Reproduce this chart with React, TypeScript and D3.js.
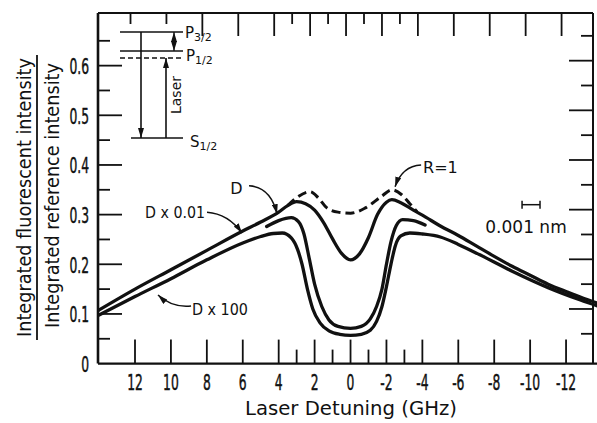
import React from 'react';
import * as d3 from 'd3';

// values: laser detuning (GHz) vs normalised intensity
const dDetuning = [14, 12, 10, 8, 6, 5, 4, 3.5, 3, 2.5, 2, 1.5, 1, 0.5, 0, -0.5, -1, -1.5, -2, -2.3, -2.8, -3.5, -4, -5, -6, -7, -8, -9, -10, -11, -12, -13, -13.75];
const dValues = [0.108, 0.150, 0.189, 0.228, 0.267, 0.285, 0.305, 0.318, 0.326, 0.322, 0.309, 0.284, 0.251, 0.222, 0.209, 0.221, 0.254, 0.300, 0.325, 0.330, 0.324, 0.309, 0.299, 0.277, 0.258, 0.237, 0.216, 0.196, 0.178, 0.160, 0.145, 0.131, 0.122];

const rDetuning = [3.5, 3, 2.25, 1.8, 1.33, 0.7, 0, -0.8, -1.7, -2.3, -2.85, -3.3, -3.7];
const rValues = [0.318, 0.334, 0.346, 0.334, 0.314, 0.305, 0.303, 0.313, 0.336, 0.350, 0.340, 0.322, 0.306];

const mDetuning = [4.67, 4, 3.3, 2.9, 2.6, 2.3, 2.0, 1.6, 1.2, 0.7, 0, -0.6, -1.1, -1.45, -1.75, -2.0, -2.25, -2.55, -2.9, -3.5, -4.15];
const mValues = [0.276, 0.288, 0.294, 0.286, 0.262, 0.212, 0.160, 0.115, 0.088, 0.075, 0.071, 0.075, 0.090, 0.115, 0.150, 0.200, 0.245, 0.278, 0.290, 0.288, 0.279];

const lDetuning = [14, 12, 10, 8, 6, 5, 4.3, 3.8, 3.3, 2.95, 2.7, 2.4, 2.1, 1.7, 1.2, 0.6, 0, -0.6, -1.1, -1.45, -1.75, -2.0, -2.25, -2.5, -2.8, -3.3, -4, -5, -6, -7.2, -9, -11, -12.8, -13.75];
const lValues = [0.098, 0.135, 0.171, 0.209, 0.243, 0.256, 0.262, 0.263, 0.253, 0.230, 0.200, 0.150, 0.110, 0.082, 0.066, 0.059, 0.057, 0.059, 0.067, 0.085, 0.115, 0.155, 0.200, 0.238, 0.257, 0.263, 0.261, 0.255, 0.240, 0.219, 0.186, 0.153, 0.128, 0.116];

const xMajorTicks = [12, 10, 8, 6, 4, 2, 0, -2, -4, -6, -8, -10, -12];
const xMinorTicks = [3, 1, -1, -3];
const topMajorTicks = [8.25, 6.25, 4.25, 2.25, 0.25, -1.75, -3.75, -5.75, -7.75, -9.75, -11.75];
const topMinorTicks = [12.25, 10.25, 3.25, 1.25, -0.75, -2.75];
const yMajorTicks = [0.1, 0.2, 0.3, 0.4, 0.5, 0.6];
const yMinorTicks = [0.05, 0.15, 0.25, 0.35, 0.45, 0.55, 0.65];
const yTickLabels = ['0', '0.1', '0.2', '0.3', '0.4', '0.5', '0.6'];
const rightMajorTicks = [0.11, 0.21, 0.31, 0.41, 0.51, 0.61];
const rightMinorTicks = [0.06, 0.16, 0.26, 0.36, 0.46, 0.56, 0.66];

const INK = '#111';
const FONT = 'DejaVu Sans, sans-serif';

function Num({ x, y, anchor = 'middle', children }: any) {
  return (
    <text transform={`translate(${x},${y}) scale(0.56,1)`} textAnchor={anchor}
      fontSize={22} fontFamily={FONT} fill={INK} stroke={INK} strokeWidth={0.5}>{children}</text>
  );
}

export default function App() {
  const x = d3.scaleLinear().domain([14.06, -13.5]).range([98, 593]);
  const y = d3.scaleLinear().domain([0, 0.706]).range([363.6, 13]);
  const left = x(14.06), right = x(-13.5), top = y(0.706), bottom = y(0);

  const line = d3.line<[number, number]>()
    .x(d => x(d[0]))
    .y(d => y(d[1]))
    .curve(d3.curveMonotoneX);
  const zip = (a: number[], b: number[]) => a.map((g, i) => [g, b[i]] as [number, number]);

  // curved label arrows, in data units
  const arrow = (g1: number, v1: number, gc: number, vc: number, g2: number, v2: number) =>
    `M${x(g1)},${y(v1)} Q${x(gc)},${y(vc)} ${x(g2)},${y(v2)}`;

  // level diagram in the corner
  const ox = left, oy = top;

  return (
    <svg width={597} height={423} style={{ position: 'absolute', left: 0, top: 0, background: '#fff' }}>
      <defs>
        <clipPath id="plot">
          <rect x={left} y={0} width={597 - left} height={bottom} />
        </clipPath>
        <marker id="head" viewBox="0 0 10 6" refX={10} refY={3} markerWidth={10} markerHeight={6}
          markerUnits="userSpaceOnUse" orient="auto">
          <path d="M0,0 L10,3 L0,6 Z" fill={INK} />
        </marker>
      </defs>

      {/* frame */}
      <g stroke={INK} fill="none">
        <line x1={left} x2={left} y1={top} y2={bottom} strokeWidth={2.6} />
        <line x1={left} x2={597} y1={bottom} y2={bottom} strokeWidth={2.2} />
        <line x1={left} x2={right} y1={top} y2={top} strokeWidth={1.8} />
        <line x1={right} x2={right} y1={top} y2={bottom} strokeWidth={2} />
      </g>

      {/* ticks */}
      <g stroke={INK} strokeWidth={1.8}>
        {xMajorTicks.map(t => <line key={'xM' + t} x1={x(t)} x2={x(t)} y1={bottom} y2={bottom - 24} />)}
        {xMinorTicks.map(t => <line key={'xm' + t} x1={x(t)} x2={x(t)} y1={bottom} y2={bottom - 14} />)}
        {topMajorTicks.map(t => <line key={'tM' + t} x1={x(t)} x2={x(t)} y1={top} y2={top + 23} />)}
        {topMinorTicks.map(t => <line key={'tm' + t} x1={x(t)} x2={x(t)} y1={top} y2={top + 11} />)}
        {yMajorTicks.map(t => <line key={'yM' + t} x1={left} x2={left + 24} y1={y(t)} y2={y(t)} />)}
        {yMinorTicks.map(t => <line key={'ym' + t} x1={left} x2={left + 12} y1={y(t)} y2={y(t)} />)}
        {rightMajorTicks.map(t => <line key={'rM' + t} x1={right} x2={right - 24} y1={y(t)} y2={y(t)} />)}
        {rightMinorTicks.map(t => <line key={'rm' + t} x1={right} x2={right - 12} y1={y(t)} y2={y(t)} />)}
      </g>

      {/* tick labels */}
      {xMajorTicks.map(t => <Num key={'xl' + t} x={x(t)} y={390}>{`${t}`}</Num>)}
      {yTickLabels.map(t => <Num key={'yl' + t} x={89} y={y(+t) + 8.5} anchor="end">{t}</Num>)}

      {/* axis titles */}
      <text x={351} y={415} textAnchor="middle" fontSize={20} fontFamily={FONT} fill={INK}
        textLength={212} lengthAdjust="spacingAndGlyphs">Laser Detuning (GHz)</text>
      <text transform="translate(31,197.5) rotate(-90)" textAnchor="middle" fontSize={19} fontFamily={FONT}
        fill={INK} textLength={279} lengthAdjust="spacingAndGlyphs">Integrated fluorescent intensity</text>
      <line x1={37} x2={37} y1={55} y2={340} stroke={INK} strokeWidth={1.8} />
      <text transform="translate(59,195.5) rotate(-90)" textAnchor="middle" fontSize={19} fontFamily={FONT}
        fill={INK} textLength={265} lengthAdjust="spacingAndGlyphs">Integrated reference intensity</text>

      {/* curves */}
      <g clipPath="url(#plot)" fill="none" stroke={INK} strokeLinecap="round" strokeLinejoin="round">
        <path d={line(zip(dDetuning, dValues)) || ''} strokeWidth={3.3} />
        <path d={line(zip(mDetuning, mValues)) || ''} strokeWidth={3.3} />
        <path d={line(zip(lDetuning, lValues)) || ''} strokeWidth={3.3} />
        <path d={line(zip(rDetuning, rValues)) || ''} strokeWidth={3} strokeDasharray="9 5" strokeLinecap="butt" />
      </g>

      {/* curve labels */}
      <g fontFamily={FONT} fontSize={16} fill={INK}>
        <text x={x(6.7)} y={y(0.342)}>D</text>
        <text x={x(11.44)} y={y(0.293)} textLength={60} lengthAdjust="spacingAndGlyphs">D x 0.01</text>
        <text x={x(8.83)} y={y(0.098)} textLength={56} lengthAdjust="spacingAndGlyphs">D x 100</text>
        <text x={x(-4.04)} y={y(0.384)}>R=1</text>
        <text x={x(-9.77)} y={y(0.263)} textAnchor="middle" fontSize={17}>0.001 nm</text>
      </g>
      <g fill="none" stroke={INK} strokeWidth={1.5}>
        <path d={arrow(5.65, 0.358, 4.45, 0.356, 4.09, 0.301)} markerEnd="url(#head)" />
        <path d={arrow(7.99, 0.305, 6.82, 0.302, 6.04, 0.263)} markerEnd="url(#head)" />
        <path d={arrow(8.88, 0.116, 9.94, 0.112, 10.72, 0.138)} markerEnd="url(#head)" />
        <path d={arrow(-3.93, 0.40, -2.87, 0.398, -2.48, 0.356)} markerEnd="url(#head)" />
        {/* 0.001 nm scale bar */}
        <line x1={x(-9.55)} x2={x(-10.55)} y1={y(0.32)} y2={y(0.32)} />
        <line x1={x(-9.55)} x2={x(-9.55)} y1={y(0.32) - 4} y2={y(0.32) + 4} />
        <line x1={x(-10.55)} x2={x(-10.55)} y1={y(0.32) - 4} y2={y(0.32) + 4} />
      </g>

      {/* energy-level inset */}
      <g transform={`translate(${ox},${oy})`} stroke={INK} fill="none" strokeWidth={1.6}>
        <line x1={22} x2={85} y1={19} y2={19} />
        <line x1={22} x2={85} y1={38} y2={38} />
        <line x1={22} x2={85} y1={45} y2={45} strokeDasharray="5 3" />
        <line x1={33} x2={85} y1={125} y2={125} />
        <line x1={43} x2={43} y1={19} y2={125} markerEnd="url(#head)" />
        <line x1={68} x2={68} y1={125} y2={45} markerEnd="url(#head)" />
        <line x1={76} x2={76} y1={28} y2={19} markerEnd="url(#head)" strokeWidth={1.2} />
        <line x1={76} x2={76} y1={28} y2={38} markerEnd="url(#head)" strokeWidth={1.2} />
      </g>
      <g transform={`translate(${ox},${oy})`} fill={INK} fontFamily={FONT} stroke="none">
        <text x={87} y={25} fontSize={15}>P<tspan fontSize={11} dy={3}>3/2</tspan></text>
        <text x={88} y={48} fontSize={15}>P<tspan fontSize={11} dy={3}>1/2</tspan></text>
        <text x={92} y={134} fontSize={15}>S<tspan fontSize={11} dy={3}>1/2</tspan></text>
        <text transform="translate(83,82) rotate(-90)" textAnchor="middle" fontSize={14}>Laser</text>
      </g>
    </svg>
  );
}
